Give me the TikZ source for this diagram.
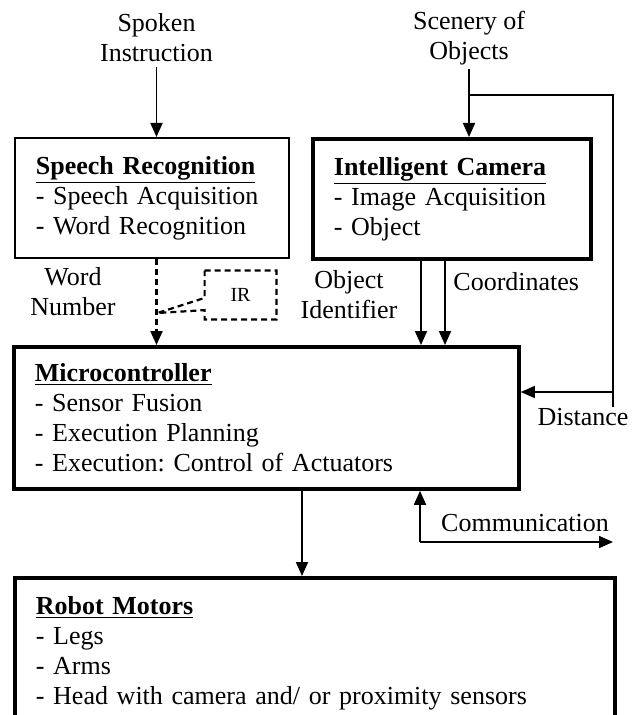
\documentclass[tikz,border=0pt]{standalone}
\usepackage{fontspec}
\setmainfont{Liberation Serif}
\usetikzlibrary{arrows.meta,positioning,calc}
\tikzset{
  rbArrow/.style={-{Triangle[length=7pt,width=6pt]},line width=0.9pt},
  rbBlock/.style={draw,line width=0.9pt,anchor=north west,align=left,
    inner xsep=10.5pt,inner ysep=0pt,font=\fontsize{13}{15}\selectfont},
  rbHeavy/.style={rbBlock,line width=1.9pt},
  rbText/.style={font=\fontsize{13}{15}\selectfont,align=center,inner sep=2pt},
  rbDash/.style={dash pattern=on 3pt off 2pt,line width=1.1pt}
}
\newcommand{\rbHead}[1]{\underline{\textbf{#1}}}
\frenchspacing
\begin{document}
\begin{tikzpicture}[x=0.5pt,y=-0.5pt]
\path[use as bounding box] (0,0) rectangle (637,715);
% blocks
\node[rbBlock,text width=116pt,minimum height=60pt] (speech) at (14,137)
  {\rbHead{Speech Recognition}\\- Speech Acquisition\\- Word Recognition};
\node[rbHeavy,text width=118pt,minimum height=60pt] (camera) at (311,137)
  {\rbHead{Intelligent Camera}\\- Image Acquisition\\- Object};
\node[rbHeavy,text width=231.5pt,minimum height=71pt] (micro) at (12,345)
  {\rbHead{Microcontroller}\\- Sensor Fusion\\- Execution Planning\\- Execution: Control of Actuators};
\node[rbHeavy,text width=279pt,minimum height=75pt] (robot) at (13,576)
  {\rbHead{Robot Motors}\\- Legs\\- Arms\\- Head with camera and/ or proximity sensors};
% inputs
\node[rbText] (spoken) at (156.5,38) {Spoken\\Instruction};
\node[rbText] (scenery) at (469,38) {Scenery of\\Objects};
\draw[rbArrow] (spoken) -- (spoken |- speech.north);
\draw[rbArrow] (scenery) -- (scenery |- camera.north);
% distance loop
\coordinate (tap) at (469,95);
\coordinate (dist) at (613,392);
\draw[line width=0.7pt] (tap) -| ($(dist)+(0,15)$);
\draw[rbArrow,line width=0.7pt] (dist) -- (dist -| micro.east);
\node[rbText] (distance) at (583,417) {Distance};
% speech to micro
\draw[rbArrow,rbDash] (spoken |- speech.south) -- (spoken |- micro.north);
\node[rbText] (word) at (73,292) {Word\\Number};
\node[rbText,minimum width=35.5pt,minimum height=24pt,
  font=\fontsize{10}{12}\selectfont] (ir) at (240.5,295) {IR};
\coordinate (irtip) at (157.5,313);
\draw[rbDash] (ir.north west) -- (ir.north east) -- (ir.south east) -- (ir.south west)
  -- ($(ir.south west)!0.19!(ir.north west)$) -- (irtip)
  -- ($(ir.south west)!0.44!(ir.north west)$) -- cycle;
% camera to micro
\coordinate (oid) at (421,300);
\coordinate (ocd) at (445,300);
\draw[rbArrow] (camera.south -| oid) -- (micro.north -| oid);
\draw[rbArrow] (camera.south -| ocd) -- (micro.north -| ocd);
\node[rbText] (objid) at (349,295) {Object\\Identifier};
\node[rbText,anchor=west] (coord) at (449,282) {Coordinates};
% micro to motors
\coordinate (mot) at (302,530);
\draw[rbArrow] (micro.south -| mot) -- (robot.north -| mot);
% communication
\coordinate (com) at (420,542);
\coordinate (comend) at (613,542);
\draw[rbArrow] (com) -- (com |- micro.south);
\draw[rbArrow] (com) -- (comend);
\node[rbText] (commlbl) at (525,523) {Communication};
\end{tikzpicture}
\end{document}
